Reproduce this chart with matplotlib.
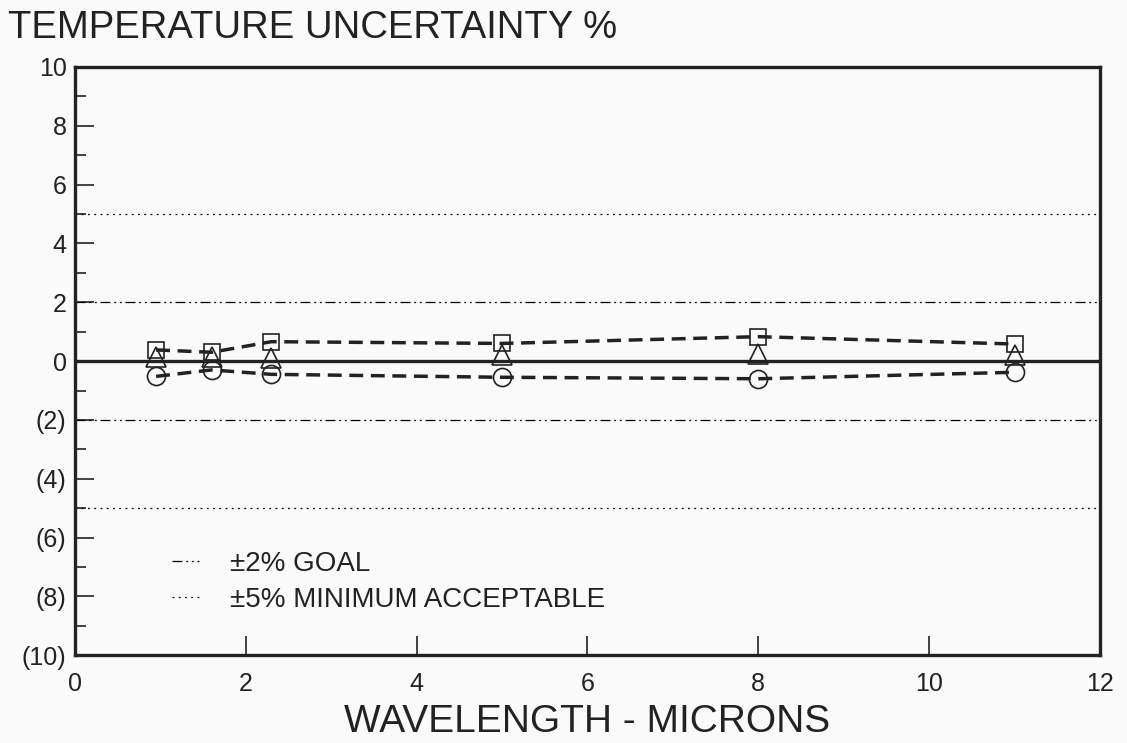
import matplotlib
matplotlib.use("Agg")
import matplotlib.pyplot as plt
from matplotlib.lines import Line2D
from matplotlib.ticker import MultipleLocator

# wavelength (microns)
wavelength = [0.95, 1.6, 2.3, 5.0, 8.0, 11.0]
# uncertainty %, three series
upper = [0.38, 0.3, 0.66, 0.6, 0.83, 0.58]
middle = [0.15, 0.15, 0.12, 0.2, 0.25, 0.22]
lower = [-0.52, -0.3, -0.45, -0.55, -0.6, -0.38]

goal = 2
minimum = 5
yticks = list(range(-10, 11, 2))
ytick_labels = ["(10)", "(8)", "(6)", "(4)", "(2)", "0", "2", "4", "6", "8", "10"]
xticks = list(range(0, 13, 2))

font = ["Liberation Sans", "DejaVu Sans"]

fig = plt.figure(figsize=(11.27, 7.43), dpi=100, facecolor="#fafafa")
ax = fig.add_axes([0.0665, 0.118, 0.9095, 0.792])
ax.set_facecolor("#fafafa")

dashdotdot = (0, (8, 3, 1.5, 3, 1.5, 3))
dotted = (0, (1.5, 3.5))

for s in (1, -1):
    ax.axhline(s * goal, color="black", lw=0.9, linestyle=dashdotdot)
    ax.axhline(s * minimum, color="black", lw=0.9, linestyle=dotted)
ax.axhline(0, color="#222222", lw=2.4)

dash = (0, (4, 2.2))
ax.plot(wavelength, upper, color="#222222", lw=2.5, linestyle=dash,
        marker="s", ms=12, mfc="none", mec="#222222", mew=1.2)
ax.plot(wavelength, lower, color="#222222", lw=2.5, linestyle=dash,
        marker="o", ms=13, mfc="none", mec="#222222", mew=1.2)
ax.plot(wavelength, middle, linestyle="none",
        marker="^", ms=14, mfc="none", mec="#222222", mew=1.2)

ax.set_xlim(0, 12)
ax.set_ylim(-10, 10)
ax.set_xticks(xticks)
ax.set_yticks(yticks)
ax.set_yticklabels(ytick_labels)
ax.yaxis.set_minor_locator(MultipleLocator(1))
ax.tick_params(axis="both", which="both", direction="in", top=False, right=False,
               color="#222222", width=1.2)
ax.tick_params(axis="both", which="major", length=14, labelsize=18)
ax.tick_params(axis="x", which="major", pad=12)
ax.tick_params(axis="y", which="major", pad=6)
ax.tick_params(axis="y", which="minor", length=8)
ax.tick_params(axis="x", which="minor", length=0)
for lab in ax.get_xticklabels() + ax.get_yticklabels():
    lab.set_family(font)
    lab.set_color("#222222")
for sp in ax.spines.values():
    sp.set_linewidth(2.4)
    sp.set_color("#222222")

ax.set_xlabel("WAVELENGTH - MICRONS", fontsize=28, family=font, color="#222222", labelpad=6)
fig.text(0.007, 0.962, "TEMPERATURE UNCERTAINTY %", fontsize=27.5, family=font,
         color="#222222", ha="left", va="center")

handles = [Line2D([], [], color="black", lw=0.9, linestyle=dashdotdot),
           Line2D([], [], color="black", lw=0.9, linestyle=dotted)]
labels = ["\u00b12% GOAL", "\u00b15% MINIMUM ACCEPTABLE"]
ax.legend(handles, labels, loc="lower left", bbox_to_anchor=(0.07, 0.03),
          frameon=False, handlelength=1.0, handletextpad=1.1, labelspacing=0.35,
          prop={"family": font, "size": 20}, labelcolor="#222222")

fig.savefig("out.png", dpi=100, facecolor=fig.get_facecolor())
